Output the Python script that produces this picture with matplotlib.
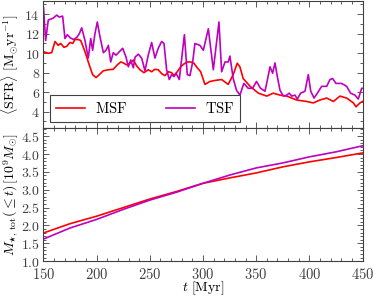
import matplotlib
matplotlib.use('Agg')
import matplotlib.pyplot as plt
import matplotlib.ticker as mtick

plt.rcParams['mathtext.fontset'] = 'cm'
plt.rcParams['font.family'] = 'serif'
plt.rcParams['font.serif'] = ['DejaVu Serif']
plt.rcParams['font.size'] = 10

# star formation rate
msf_t = [150, 154.5, 157.7, 160.8, 163.9, 166.1, 169.3, 171.8, 174.9, 177.5, 179.6, 182.7, 185,
         189, 193, 196.2, 199.4, 202.5, 206.3, 211, 215.6, 219.4, 222.6, 225.1, 228.2, 231.4,
         234.5, 237.6, 240.7, 244.5, 248.5, 251.7, 254.8, 257.9, 261.1, 264.2, 267.4, 270.5,
         273, 275.8, 279, 282.1, 285.2, 288.4, 291.5, 294.6, 297.8, 301.8, 306.5, 311, 317.5,
         323.7, 328.4, 332.2, 334.7, 337.8, 344.3, 352.1, 360, 366, 372.4, 378.7, 388, 397.5,
         403.7, 410, 416.3, 422.6, 428.8, 435.1, 441.4, 443.9, 447.6, 450]
msf_sfr = [10.15, 9.99, 10.05, 11.2, 10.8, 11.0, 10.6, 10.7, 11.1, 11.0, 11.4, 11.4, 11.3,
           10.15, 8.8, 7.8, 7.5, 7.8, 8.2, 8.3, 8.35, 8.8, 9.1, 9.0, 8.8, 8.97,
           9.3, 8.7, 8.3, 8.0, 8.3, 8.1, 8.35, 8.3, 7.9, 7.7, 8.1, 8.0,
           7.7, 8.1, 8.6, 8.9, 9.1, 9.1, 8.97, 8.5, 8.1, 6.8, 7.1, 7.2, 7.3,
           6.8, 7.8, 8.97, 8.6, 7.4, 6.6, 5.9, 5.6, 5.9, 5.7, 5.6, 5.2, 5.05,
           4.9, 5.2, 5.4, 5.05, 5.6, 5.4, 4.9, 4.5, 4.9, 5.05]

tsf_t = [150, 152, 154.5, 159.2, 162.4, 164.9, 168, 170.2, 172.4, 174.9, 178, 181.2, 183.7,
         185.9, 189, 192.1, 194.4, 196.2, 198.4, 200.6, 203.1, 206.3, 208.8, 211, 213.2, 215.6,
         218.2, 221.3, 224.5, 227.6, 229.8, 232, 234.5, 236.1, 239.2, 242.3, 245.4, 248.5,
         251.7, 254.8, 257.9, 261.1, 263.3, 265.8, 268.3, 270.5, 272.7, 274.6, 277.7, 282.5,
         285.2, 287.7, 290.3, 292.4, 297.1, 300.3, 305, 309.7, 315, 317.5, 320.7, 323.7, 325.3,
         328.4, 331.5, 334.7, 338.4, 342.5, 346.6, 350.3, 354.1, 358.3, 360.8, 363, 365.5,
         367.7, 369.9, 372.4, 375.5, 378.7, 381.1, 383.4, 386.5, 388.7, 391.8, 395.9, 399,
         401.3, 404.4, 407.5, 411.6, 416.3, 419.4, 421.9, 425, 430.4, 435.1, 438.8, 442.9,
         446, 449.2, 450]
tsf_sfr = [14.7, 11.3, 13.4, 13.6, 13.9, 13.7, 13.8, 11.5, 11.9, 11.6, 11.4, 11.6, 12.0,
           12.6, 11.3, 9.5, 11.5, 10.3, 12.0, 13.2, 11.7, 10.05, 10.3, 10.8, 9.1, 10.05,
           9.8, 10.15, 10.5, 9.6, 8.6, 9.3, 8.5, 9.6, 9.9, 9.5, 8.2, 9.8,
           11.1, 9.5, 10.5, 11.2, 11.0, 8.3, 7.3, 7.8, 7.6, 7.95, 7.3, 11.9,
           7.8, 7.7, 9.1, 11.0, 10.8, 10.3, 12.5, 8.3, 13.2, 8.1, 9.1, 9.1, 9.7,
           7.4, 6.2, 5.7, 6.9, 6.4, 6.4, 7.1, 6.4, 6.1, 7.4, 8.6, 7.95,
           9.0, 7.6, 6.2, 5.6, 5.7, 5.9, 5.6, 5.7, 5.3, 5.9, 6.1, 7.8,
           6.1, 5.4, 5.9, 6.6, 6.6, 7.3, 7.4, 6.9, 6.9, 6.6, 5.9, 5.7,
           5.3, 6.4, 6.4]

# cumulative stellar mass [1e9 Msun]
mass_t = [150, 175, 200, 225, 250, 275, 300, 325, 350, 375, 400, 425, 450]
msf_mass = [1.79, 2.05, 2.26, 2.5, 2.74, 2.95, 3.18, 3.33, 3.47, 3.64, 3.78, 3.9, 4.03]
tsf_mass = [1.62, 1.93, 2.17, 2.45, 2.71, 2.93, 3.18, 3.41, 3.61, 3.75, 3.92, 4.06, 4.23]

red = '#ff0000'
mag = '#bf00bf'

fig = plt.figure(figsize=(3.74, 2.98), dpi=100)
ax1 = fig.add_axes([0.1163, 0.5695, 0.853, 0.4255])
ax2 = fig.add_axes([0.1163, 0.1235, 0.853, 0.446], sharex=ax1)

ax1.plot(msf_t, msf_sfr, color=red, lw=1.2, label=r'$\mathrm{MSF}$')
ax1.plot(tsf_t, tsf_sfr, color=mag, lw=1.2, label=r'$\mathrm{TSF}$')
ax2.plot(mass_t, msf_mass, color=red, lw=1.2)
ax2.plot(mass_t, tsf_mass, color=mag, lw=1.2)

ax1.set_xlim(150, 450)
ax1.set_ylim(2.3, 15.3)
ax2.set_ylim(1.0, 4.72)

ax1.yaxis.set_major_locator(mtick.MultipleLocator(2))
ax1.yaxis.set_minor_locator(mtick.MultipleLocator(1))
ax2.yaxis.set_major_locator(mtick.MultipleLocator(0.5))
ax2.yaxis.set_minor_locator(mtick.MultipleLocator(0.1))
ax2.xaxis.set_major_locator(mtick.MultipleLocator(50))
ax2.xaxis.set_minor_locator(mtick.MultipleLocator(10))

ax1.yaxis.set_major_formatter(mtick.FuncFormatter(lambda v, p: r'$%g$' % v))
ax2.yaxis.set_major_formatter(mtick.FuncFormatter(lambda v, p: r'$%.1f$' % v))
ax2.xaxis.set_major_formatter(mtick.FuncFormatter(lambda v, p: r'$%g$' % v))
plt.setp(ax1.get_xticklabels(), visible=False)

for ax in (ax1, ax2):
    ax.tick_params(which='both', direction='in', top=True, right=True,
                   colors='0.25', labelsize=10.5, width=0.6)
    ax.tick_params(which='major', length=4)
    ax.tick_params(which='minor', length=2)
    ax.tick_params(axis='y', pad=2.5, labelsize=10)
    ax.tick_params(axis='x', pad=4)
    for s in ax.spines.values():
        s.set_color('0.25')
        s.set_linewidth(0.8)

ax1.set_ylabel(r'$\langle\mathrm{SFR}\rangle\ [\mathrm{M_{\odot}yr^{-1}}]$', fontsize=10)
ax2.set_ylabel(r'$M_{\star,\,\mathrm{tot}}(\leq t)\,[10^9 M_{\odot}]$', fontsize=10)
ax1.yaxis.set_label_coords(-0.071, 0.5)
ax2.yaxis.set_label_coords(-0.071, 0.5)
ax2.set_xlabel(r'$t\ [\mathrm{Myr}]$', fontsize=10, labelpad=-1.5)

leg = ax1.legend(loc='lower left', ncol=2, fancybox=False, edgecolor='0.25',
                 fontsize=10.5, handlelength=2.0, handletextpad=0.65,
                 columnspacing=2.7, borderaxespad=0.45, framealpha=1)
leg.get_frame().set_linewidth(0.8)

fig.savefig('out.png', dpi=100)
